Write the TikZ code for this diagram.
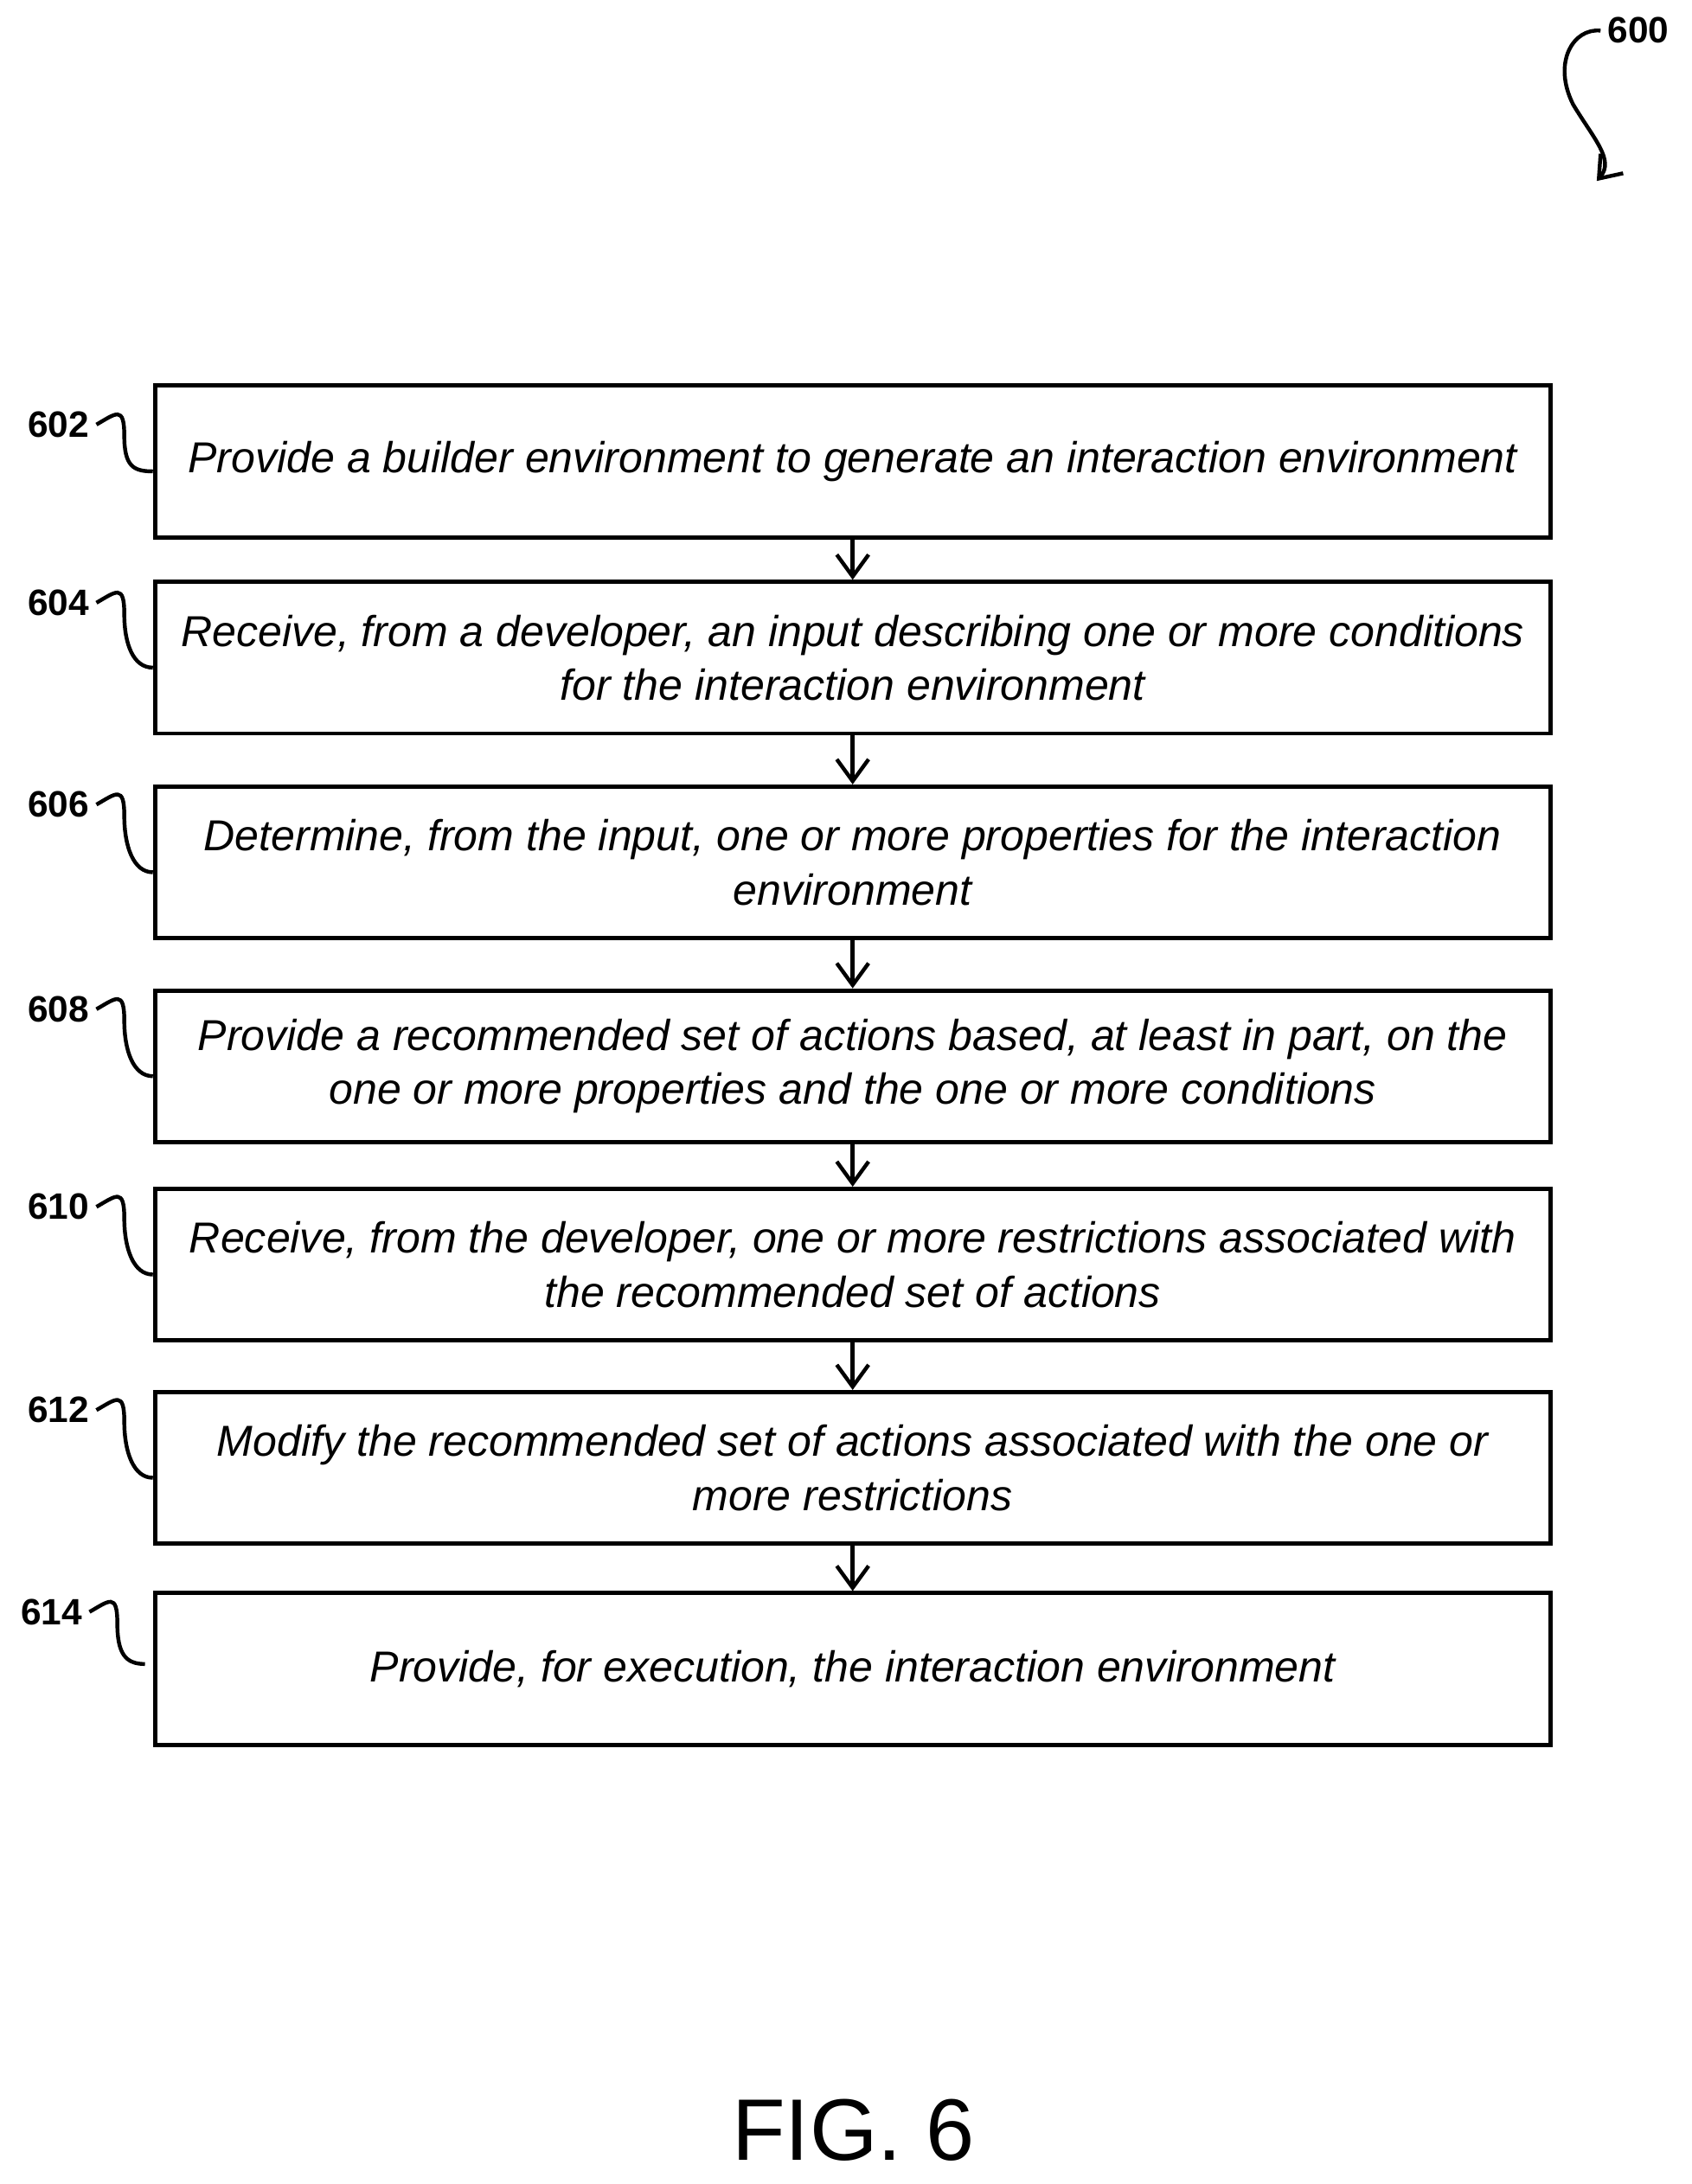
\documentclass[tikz,border=0pt]{standalone}
\usepackage{fontspec}
\setmainfont{Liberation Sans}
\usetikzlibrary{positioning,arrows.meta}

\begin{document}
\begin{tikzpicture}[
    x=0.014cm, y=-0.014cm,
    every node/.style={align=center},
    box/.style={draw, line width=1.2pt, rectangle, minimum width=14.04cm, minimum height=1.526cm, inner sep=0pt, font=\fontsize{12.4}{15.5}\selectfont\itshape},
    ref/.style={font=\fontsize{10.5}{12}\selectfont\bfseries},
    arrow/.style={-{Straight Barb[length=2.2mm, width=3.2mm]}, line width=1.1pt},
    squig/.style={line width=1.1pt}
]
\useasboundingbox (0,0) rectangle (1215,1569);

% Steps of the flow
\node[box] (s602) at (612.5,331.5) {Provide a builder environment to generate an interaction environment};
\node[box] (s604) at (612.5,472.5) {Receive, from a developer, an input describing one or more conditions\\for the interaction environment};
\node[box] (s606) at (612.5,619.5) {Determine, from the input, one or more properties for the interaction\\environment};
\node[box] (s608) at (612.5,766) {Provide a recommended set of actions based, at least in part, on the\\one or more properties and the one or more conditions};
\node[box] (s610) at (612.5,908.5) {Receive, from the developer, one or more restrictions associated with\\the recommended set of actions};
\node[box] (s612) at (612.5,1054.5) {Modify the recommended set of actions associated with the one or\\more restrictions};
\node[box] (s614) at (612.5,1199) {Provide, for execution, the interaction environment};

% Arrows between steps
\foreach \a/\b in {602/604,604/606,606/608,608/610,610/612,612/614}
  \draw[arrow] (s\a.south) -- (s\b.north);

% Reference numerals
\foreach \n/\y in {602/305,604/433,606/578,608/725,610/867,612/1013}{
  \node[ref] (r\n) at (42,\y) {\n};
  \draw[squig] ([xshift=-0.05cm]r\n.east) .. controls ++(14,-8) and ++(0,-22) .. ++(20,8)
    .. controls ++(0,22) and ++(-14,0) .. ([yshift=-0.1cm]s\n.west);
}
\node[ref] (r614) at (37,1158) {614};
\draw[squig] ([xshift=-0.05cm]r614.east) .. controls ++(14,-8) and ++(0,-22) .. ++(20,8)
  .. controls ++(0,22) and ++(-14,0) .. ([xshift=-0.08cm, yshift=0.05cm]s614.west);

% Figure numeral
\node[ref] (r600) at (1177,22) {600};
\coordinate (tip600) at (1147,130);
\draw[squig, -{Straight Barb[length=2mm, width=3mm]}] ([xshift=0.05cm]r600.west) .. controls (1130,20) and (1115,45) .. (1130,75)
  .. controls (1145,100) and (1160,115) .. (tip600);

\node[font=\fontsize{25}{28}\selectfont] (fig) at (613,1530) {FIG. 6};
\end{tikzpicture}
\end{document}
